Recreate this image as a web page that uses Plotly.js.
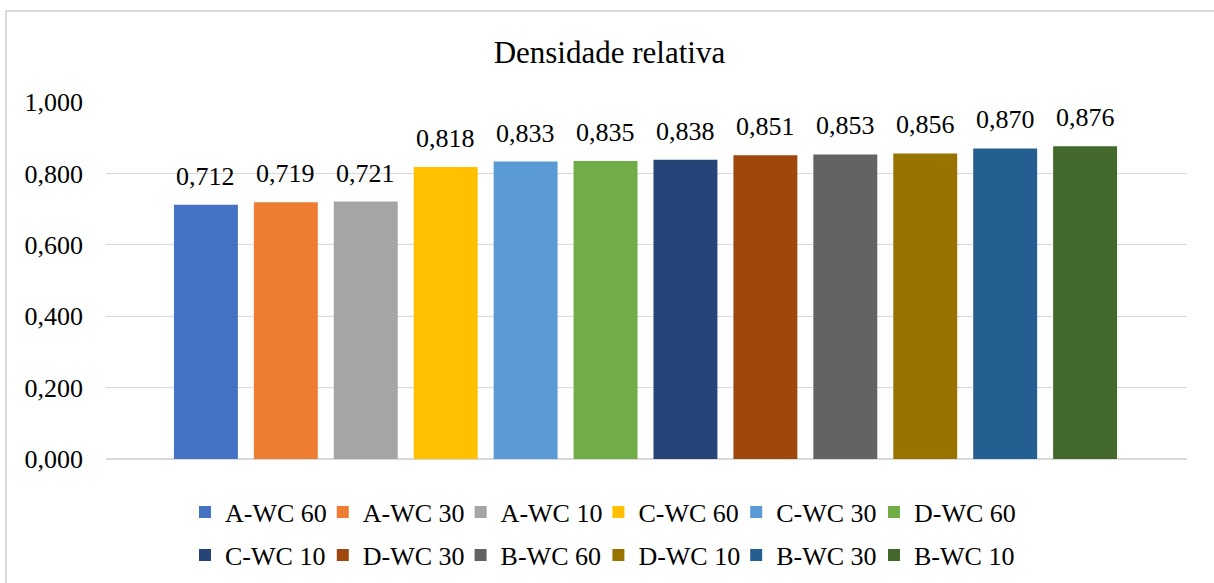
<!DOCTYPE html>
<html>
<head>
<meta charset="utf-8">
<script src="https://cdn.plot.ly/plotly-3.0.1.min.js"></script>
<style>
  html, body { margin: 0; padding: 0; background: #fff; overflow: hidden; }
  #chart { width: 1214px; height: 583px; }
  #frame { position: absolute; left: 5px; top: 10px; width: 1400px; height: 800px;
           border: 2px solid #d9d9d9; pointer-events: none; box-sizing: border-box; }
</style>
</head>
<body>
<div id="chart"></div>
<div id="frame"></div>
<script>
const categories = ["A-WC 60","A-WC 30","A-WC 10","C-WC 60","C-WC 30","D-WC 60",
                    "C-WC 10","D-WC 30","B-WC 60","D-WC 10","B-WC 30","B-WC 10"];
const values = [0.712, 0.719, 0.721, 0.818, 0.833, 0.835, 0.838, 0.851, 0.853, 0.856, 0.870, 0.876];
const colors = ["#4472C4","#ED7D31","#A5A5A5","#FFC000","#5B9BD5","#70AD47",
                "#264478","#9E480E","#636363","#997300","#255E91","#43682B"];
const yTicks = [0, 0.2, 0.4, 0.6, 0.8, 1.0];
const chartTitle = "Densidade relativa";

const FONT = "Liberation Serif, Times New Roman, serif";
const FS = 26;
const PER_ROW = 6;

const legendId = i => (i === 0 ? "legend" : "legend" + (i + 1));

const traces = categories.map((c, i) => ({
  type: "bar",
  name: c,
  x: [c],
  y: [values[i]],
  marker: { color: colors[i] },
  legend: legendId(i),
  hoverinfo: "x+y"
}));

const annotations = categories.map((c, i) => ({
  x: c, y: values[i], xref: "x", yref: "y",
  text: values[i].toFixed(3).replace(".", ","),
  showarrow: false,
  xanchor: "center", yanchor: "bottom",
  yshift: 12,
  font: { family: FONT, size: FS, color: "#000" }
}));

const layout = {
  width: 1214, height: 583,
  margin: { l: 106, r: 27, t: 102, b: 124 },
  paper_bgcolor: "#fff", plot_bgcolor: "#fff",
  separators: ", ",
  font: { family: FONT, size: FS, color: "#000" },
  title: {
    text: chartTitle,
    font: { family: FONT, size: 31, color: "#000" },
    x: 0.502, xref: "container", xanchor: "center",
    y: 1 - 52 / 583, yref: "container", yanchor: "middle"
  },
  barmode: "overlay",
  bargap: 0.2,
  showlegend: true,
  annotations: annotations,
  xaxis: {
    type: "category",
    categoryorder: "array", categoryarray: categories,
    range: [-1.25, 11 + 1.275],
    showticklabels: false, showgrid: false, zeroline: false, showline: false, ticks: ""
  },
  yaxis: {
    range: [0, 1.0],
    tickvals: yTicks,
    tickformat: ".3f",
    showgrid: true, gridcolor: "#d9d9d9", gridwidth: 1.3,
    zeroline: true, zerolinecolor: "#d9d9d9", zerolinewidth: 1.3,
    showline: false, ticks: "",
    ticklabelstandoff: 22,
    tickfont: { family: FONT, size: FS, color: "#000" }
  }
};

categories.forEach((c, i) => {
  const col = i % PER_ROW, row = Math.floor(i / PER_ROW);
  layout[legendId(i)] = {
    orientation: "h",
    xref: "container", yref: "container",
    xanchor: "left", yanchor: "middle",
    x: (185 + col * 137.8) / 1214,
    y: 1 - (512 + row * 43) / 583,
    font: { family: FONT, size: FS, color: "#000" },
    itemwidth: 30,
    bgcolor: "rgba(0,0,0,0)"
  };
});

Plotly.newPlot("chart", traces, layout, { displayModeBar: false, staticPlot: true });
</script>
</body>
</html>
